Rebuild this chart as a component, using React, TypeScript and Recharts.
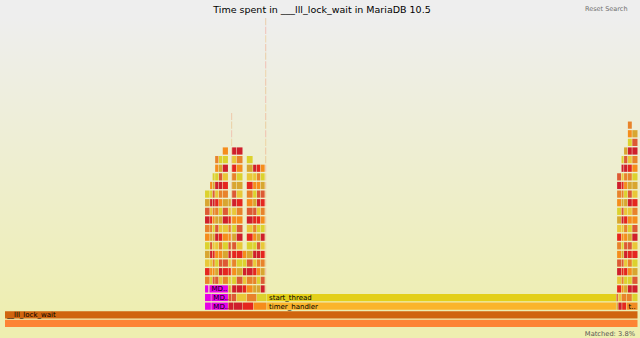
import React from 'react';
import { ComposedChart, XAxis, YAxis, ReferenceArea } from 'recharts';

// ---------- data (sample offsets out of 1000, depth = stack level) ----------
const TOTAL_SAMPLES = 1000;

type Frame = { depth: number; start: number; end: number; kind: string; label?: string; pale?: boolean };

// root rows
const rootFrames: Frame[] = [
  { depth: 0, start: 0, end: 1000, kind: 'all' },
  { depth: 1, start: 0, end: 1000, kind: 'lock', label: '__lll_lock_wait' },
];

// thread-entry rows (depth 2..4)
const threadFrames: Frame[] = [
  { depth: 2, start: 316, end: 326, kind: 'mdl' },
  { depth: 2, start: 326, end: 353, kind: 'mdl', label: 'MD..' },
  { depth: 2, start: 353, end: 361, kind: 'hot' },
  { depth: 2, start: 361, end: 376, kind: 'hot' },
  { depth: 2, start: 376, end: 393, kind: 'hot' },
  { depth: 2, start: 393, end: 414, kind: 'hot' },
  { depth: 2, start: 414, end: 966, kind: 'timer', label: 'timer_handler' },
  { depth: 2, start: 966, end: 969, kind: 'hot' },
  { depth: 2, start: 969, end: 975, kind: 'hot' },
  { depth: 2, start: 975, end: 982, kind: 'hot' },
  { depth: 2, start: 982, end: 1000, kind: 'tfn', label: 't..' },
  { depth: 3, start: 316, end: 326, kind: 'mdl' },
  { depth: 3, start: 326, end: 353, kind: 'mdl', label: 'MD..' },
  { depth: 3, start: 353, end: 358, kind: 'hot' },
  { depth: 3, start: 358, end: 366, kind: 'hot' },
  { depth: 3, start: 366, end: 382, kind: 'hot' },
  { depth: 3, start: 382, end: 398, kind: 'hot' },
  { depth: 3, start: 398, end: 414, kind: 'hot' },
  { depth: 3, start: 414, end: 966, kind: 'start', label: 'start_thread' },
  { depth: 3, start: 966, end: 969, kind: 'hot' },
  { depth: 3, start: 969, end: 974, kind: 'hot' },
  { depth: 3, start: 974, end: 982, kind: 'hot' },
  { depth: 3, start: 982, end: 991, kind: 'hot' },
  { depth: 3, start: 991, end: 1000, kind: 'hot' },
  { depth: 4, start: 316, end: 322, kind: 'mdl' },
  { depth: 4, start: 323, end: 353, kind: 'mdl', label: 'MD..' },
];

// stacked columns of deeper frames: [start, end, firstDepth, lastDepth]
const leftColumns: [number, number, number, number][] = [
  [316, 324, 5, 15],
  [324, 328, 5, 16],
  [328, 332, 5, 17],
  [332, 338, 5, 19],
  [338, 344, 5, 19],
  [344, 353, 5, 20],
  [353, 357.5, 4, 14],
  [358.8, 366, 4, 20],
  [366, 376, 4, 20],
  [376, 382, 4, 8],
  [382, 392, 4, 19],
  [392, 398, 4, 18],
  [398, 404, 4, 18],
  [404, 411, 4, 18],
];

const rightColumns: [number, number, number, number][] = [
  [967, 974, 4, 17],
  [974, 978, 4, 19],
  [978, 984, 4, 20],
  [984, 991, 4, 23],
  [991, 1000, 4, 22],
];

// very narrow, tall stacks
const thinStacks: [number, number, number, number][] = [
  [357.5, 358.8, 4, 24],
  [411.2, 412.6, 4, 35],
];

const TITLE = 'Time spent in ___lll_lock_wait in MariaDB 10.5';
const SEARCH_TEXT = 'Reset Search';
const MATCHED_TEXT = 'Matched: 3.8%';

// ---------- styles ----------
const KIND_COLORS: Record<string, string> = {
  all: '#fd8434',
  lock: '#d0650f',
  timer: '#fab42c',
  start: '#e3cf1a',
  mdl: '#e600e6',
  tfn: '#f08a24',
};

const HOT = [
  '#e5261f', '#f3ad22', '#dcd22e', '#ec6a2a', '#cf1f2c', '#f7d51f', '#e8832b', '#fb2a16',
  '#d8a630', '#f04a27', '#e9c838', '#d2322d', '#f58d1c', '#e2e033', '#dd5a34', '#f6b73c',
];

const PALE = ['#f0a27a', '#eec07a', '#f29a8c', '#e8b070'];

const hotColor = (a: number, b: number) => HOT[(a * 5 + b * 3 + ((a + b) % 4) * 7) % HOT.length];

const ROW_PX = 8.62;
const BAR_FRAC = 7.2 / ROW_PX;
const PLOT_H = 327;
const Y_MAX = PLOT_H / ROW_PX;

const expand = (cols: [number, number, number, number][], offset: number, pale = false): Frame[] =>
  cols.flatMap(([start, end, lo, hi], ci) =>
    Array.from({ length: hi - lo + 1 }, (_, k) => ({
      depth: lo + k,
      start,
      end,
      kind: 'hot',
      pale,
      _c: ci + offset,
    } as any))
  );

const frames: any[] = [
  ...rootFrames,
  ...threadFrames.map((f, i) => ({ ...f, _c: i + 3 })),
  ...expand(leftColumns, 0),
  ...expand(rightColumns, 20),
  ...expand(thinStacks, 40, true),
];

const FONT = '"DejaVu Sans", Verdana, sans-serif';

export default function App() {
  return (
    <div
      style={{
        position: 'fixed',
        left: 0,
        top: 0,
        width: 640,
        height: 338,
        background: 'linear-gradient(#eeeeee 5%, #eeeeb0 95%)',
        overflow: 'hidden',
      }}
    >
      <ComposedChart
        width={640}
        height={338}
        margin={{ top: 0, right: 2, bottom: 11, left: 5 }}
        data={[{ x: 0, y: 0 }, { x: TOTAL_SAMPLES, y: Y_MAX }]}
      >
        <XAxis type="number" dataKey="x" domain={[0, TOTAL_SAMPLES]} hide allowDataOverflow />
        <YAxis type="number" dataKey="y" domain={[0, Y_MAX]} hide allowDataOverflow />
        {frames.map((f, i) => {
          const fill = f.pale
            ? PALE[f.depth % PALE.length]
            : f.kind === 'hot'
            ? hotColor(f._c, f.depth)
            : KIND_COLORS[f.kind];
          const inset = f.pale ? 0 : 0.8;
          return (
            <ReferenceArea
              key={i}
              x1={f.start}
              x2={f.end - inset}
              y1={f.depth}
              y2={f.depth + BAR_FRAC}
              fill={fill}
              fillOpacity={f.pale ? 0.6 : 1}
              stroke="none"
              ifOverflow="visible"
              label={
                f.label
                  ? (p: any) => {
                      const vb = p.viewBox || {};
                      return (
                        <text
                          x={vb.x + 2}
                          y={vb.y + vb.height / 2 + 2.5}
                          fontSize={7}
                          fill="#000"
                          fontFamily={FONT}
                        >
                          {f.label}
                        </text>
                      );
                    }
                  : undefined
              }
            />
          );
        })}
      </ComposedChart>
      <svg width={640} height={338} style={{ position: 'absolute', left: 0, top: 0, pointerEvents: 'none' }}>
        <text x={322} y={12.5} textAnchor="middle" fontSize={9.5} fill="#000" fontFamily={FONT}>
          {TITLE}
        </text>
        <text x={585} y={11} fontSize={6.5} fill="#6f6f6f" fontFamily={FONT}>
          {SEARCH_TEXT}
        </text>
        <text x={635} y={336} textAnchor="end" fontSize={6.7} fill="#555" fontFamily={FONT}>
          {MATCHED_TEXT}
        </text>
      </svg>
    </div>
  );
}
